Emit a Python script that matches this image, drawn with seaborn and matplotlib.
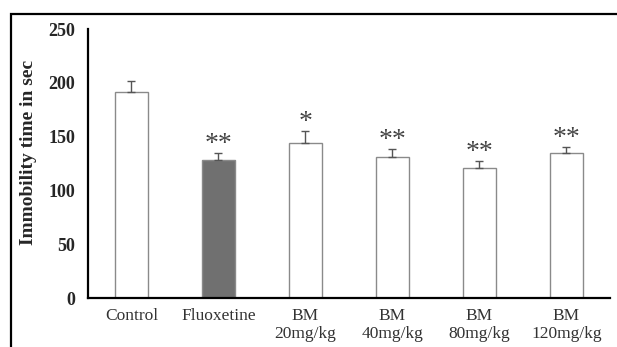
import matplotlib
matplotlib.use("Agg")
import matplotlib.pyplot as plt
import seaborn as sns
import pandas as pd
from matplotlib.patches import Rectangle

# data
groups = ["Control", "Fluoxetine", "BM\n20mg/kg", "BM\n40mg/kg", "BM\n80mg/kg", "BM\n120mg/kg"]
means = [191, 128, 144, 131, 120.5, 134.5]
sem = [11, 7, 11.5, 7.5, 7, 6]
stars = ["", "**", "*", "**", "**", "**"]
fill_colors = ["white", "#707070", "white", "white", "white", "white"]

sns.set_style("white")
plt.rcParams["font.family"] = ["Liberation Serif", "DejaVu Serif"]

df = pd.DataFrame({"group": groups, "time": means})

fig = plt.figure(figsize=(6.17, 3.47), dpi=100)
ax = fig.add_axes([0.1426, 0.1412, 0.846, 0.7752])

sns.barplot(data=df, x="group", y="time", hue="group", palette=fill_colors,
            order=groups, hue_order=groups, legend=False, errorbar=None,
            width=0.39, edgecolor="#8a8a8a", linewidth=1.0, ax=ax)

# upward-only error bars
ax.errorbar(range(len(groups)), means, yerr=[[0] * len(sem), sem], fmt="none",
            ecolor="#555555", elinewidth=1.0, capsize=3, capthick=1.0)

for i, (m, s, st) in enumerate(zip(means, sem, stars)):
    if st:
        ax.annotate(st, (i, m + s), xytext=(0, -3), textcoords="offset points",
                    ha="center", va="bottom", fontsize=20, color="#444444")

ax.set_xlim(-0.5, 5.5)
ax.set_ylim(0, 250)
ax.set_yticks([0, 50, 100, 150, 200, 250])
ax.set_xlabel("")
ax.set_ylabel("Immobility time in sec", fontsize=14, fontweight="bold")
ax.yaxis.set_label_coords(-0.097, 0.54)

for side in ["top", "right"]:
    ax.spines[side].set_visible(False)
for side in ["left", "bottom"]:
    ax.spines[side].set_color("black")
    ax.spines[side].set_linewidth(1.6)

ax.tick_params(axis="y", direction="out", length=4, width=1.2, labelsize=13, pad=5)
for lbl in ax.get_yticklabels():
    lbl.set_fontweight("bold")
ax.set_xticks([0.5, 1.5, 2.5, 3.5, 4.5], minor=True)
ax.tick_params(axis="x", which="major", length=0, labelsize=12.5, pad=7, labelcolor="#333333")
ax.tick_params(axis="x", which="minor", direction="inout", length=5, width=1.2)
for lbl in ax.get_xticklabels():
    lbl.set_linespacing(1.15)

# frame around the whole picture
fig.patches.append(Rectangle((11 / 617, -0.05), 1.0, 1 - 14 / 347 + 0.05,
                             transform=fig.transFigure, fill=False,
                             edgecolor="black", linewidth=1.6))

plt.savefig("out.png", dpi=100)
plt.close()
